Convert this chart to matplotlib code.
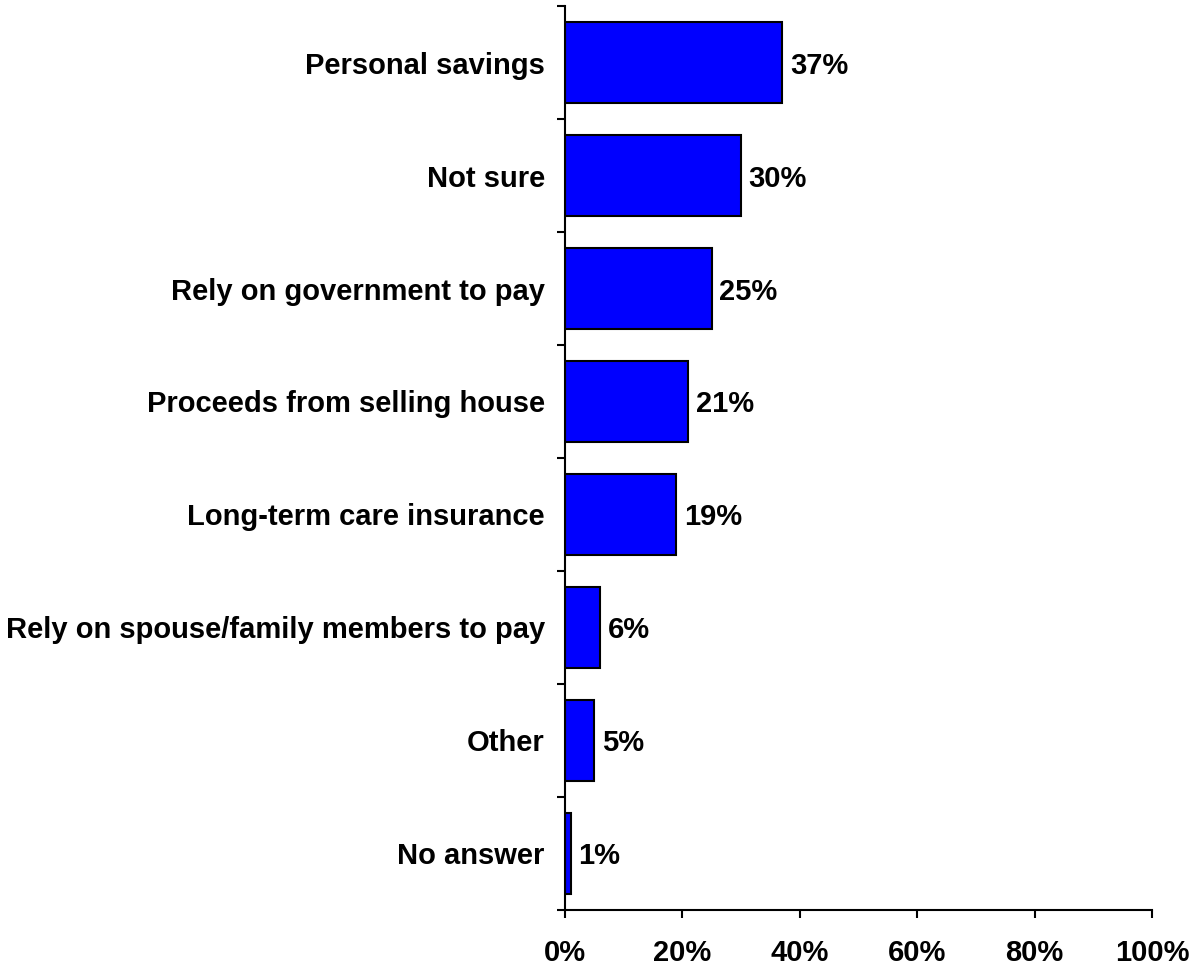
import matplotlib
matplotlib.use('Agg')
import matplotlib.pyplot as plt
import numpy as np
from matplotlib.ticker import FixedLocator

# survey answers, top to bottom
labels = ['Personal savings', 'Not sure', 'Rely on government to pay',
          'Proceeds from selling house', 'Long-term care insurance',
          'Rely on spouse/family members to pay', 'Other', 'No answer']
values = [37, 30, 25, 21, 19, 6, 5, 1]
xticks = [0, 20, 40, 60, 80, 100]

plt.rcParams['font.family'] = ['Liberation Sans', 'DejaVu Sans']
plt.rcParams['font.weight'] = 'bold'
fs = 21

fig = plt.figure(figsize=(12.01, 9.69), dpi=100)
ax = fig.add_axes([0.4704, 0.0609, 0.4888, 0.9329])

pos = np.arange(len(labels))
bars = ax.barh(pos, values, height=0.71, color='#0000FF',
               edgecolor='black', linewidth=1.5)

# value labels next to bars
for b, v in zip(bars, values):
    ax.text(b.get_width() + 1.3, b.get_y() + b.get_height() / 2, f'{v}%',
            va='center_baseline', ha='left', fontsize=fs, fontweight='bold')

ax.set_xlim(0, 100)
ax.set_ylim(len(labels) - 0.5, -0.5)

ax.set_yticks(pos)
ax.set_yticklabels(labels, fontsize=fs, fontweight='bold', va='center_baseline')
ax.yaxis.set_minor_locator(FixedLocator(np.arange(-0.5, len(labels), 1)))
ax.tick_params(axis='y', which='major', length=0, pad=14.5)
ax.tick_params(axis='y', which='minor', length=6, width=1.5)

ax.set_xticks(xticks)
ax.set_xticklabels([f'{t}%' for t in xticks], fontsize=fs, fontweight='bold')
ax.tick_params(axis='x', which='major', length=6, width=1.5, pad=15)

for s in ['top', 'right']:
    ax.spines[s].set_visible(False)
for s in ['left', 'bottom']:
    ax.spines[s].set_linewidth(1.5)

fig.savefig('out.png', dpi=100)
